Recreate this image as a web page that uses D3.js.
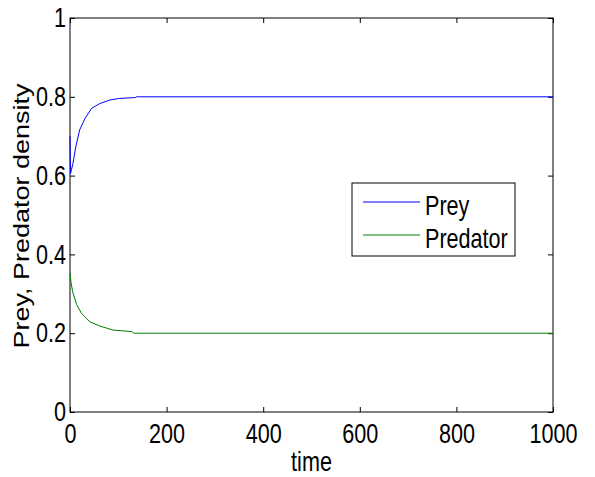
<!DOCTYPE html>
<html>
<head>
<meta charset="utf-8">
<script src="https://cdn.jsdelivr.net/npm/d3@7"></script>
<style>
  body { margin: 0; background: #fff; }
  svg { display: block; font-family: "Liberation Sans", Arial, sans-serif; }
</style>
</head>
<body>
<div id="chart"></div>
<script>
// time points and densities
const preyTime = [0, 1, 3, 6, 12, 20, 31, 45, 62, 83, 103, 135, 138, 1000];
const preyValues = [0.70, 0.605, 0.615, 0.63, 0.673, 0.716, 0.745, 0.771, 0.783, 0.792, 0.796, 0.798, 0.80, 0.80];
const predatorTime = [0, 2, 5.5, 14, 24, 41, 62, 89, 128, 132, 1000];
const predatorValues = [0.352, 0.33, 0.305, 0.272, 0.25, 0.229, 0.218, 0.208, 0.204, 0.20, 0.20];

const seriesNames = ['Prey', 'Predator'];
const seriesColors = ['#0000ff', '#008000'];

const xTicks = [0, 200, 400, 600, 800, 1000];
const xTickLabels = ['0', '200', '400', '600', '800', '1000'];
const yTicks = [0, 0.2, 0.4, 0.6, 0.8, 1];
const yTickLabels = ['0', '0.2', '0.4', '0.6', '0.8', '1'];

const W = 595, H = 477;
const margin = { top: 18, left: 70, right: 42, bottom: 65 };
const width = W - margin.left - margin.right;
const height = H - margin.top - margin.bottom;
const fontSize = 27;
const squash = 0.8; // the picture is squeezed horizontally

const svg = d3.select('#chart').append('svg')
    .attr('width', W)
    .attr('height', H);

const ctx = svg.append('g')
    .attr('transform', `translate(${margin.left},${margin.top})`);

const xScale = d3.scaleLinear().domain([0, 1000]).range([0, width]);
const yScale = d3.scaleLinear().domain([0, 1]).range([height, 0]);

// axes, ticks pointing inward like MATLAB
const xAxis = d3.axisBottom(xScale)
    .tickValues(xTicks)
    .tickFormat((d, i) => xTickLabels[i])
    .tickSizeInner(-5).tickSizeOuter(0).tickPadding(12);
const yAxis = d3.axisLeft(yScale)
    .tickValues(yTicks)
    .tickFormat((d, i) => yTickLabels[i])
    .tickSizeInner(-5).tickSizeOuter(0).tickPadding(5);

ctx.append('g')
    .attr('transform', `translate(0,${height})`)
    .call(xAxis);
ctx.append('g').call(yAxis);

ctx.append('g')
    .call(d3.axisTop(xScale).tickValues(xTicks).tickFormat('').tickSizeInner(-5).tickSizeOuter(0));
ctx.append('g')
    .attr('transform', `translate(${width},0)`)
    .call(d3.axisRight(yScale).tickValues(yTicks).tickFormat('').tickSizeInner(-5).tickSizeOuter(0));

ctx.selectAll('.domain').remove();
ctx.selectAll('.tick line').attr('stroke', '#000');
ctx.selectAll('.tick text')
    .attr('fill', '#000')
    .attr('font-size', fontSize)
    .attr('font-family', '"Liberation Sans", Arial, sans-serif')
    .attr('transform', `scale(${squash},1)`);

// box
ctx.append('rect')
    .attr('x', xScale(0))
    .attr('y', yScale(1))
    .attr('width', xScale(1000) - xScale(0))
    .attr('height', yScale(0) - yScale(1))
    .attr('fill', 'none')
    .attr('stroke', '#000')
    .attr('stroke-width', 1);

// curves
const line = d3.line()
    .x(d => xScale(d[0]))
    .y(d => yScale(d[1]));

const series = [
    d3.zip(preyTime, preyValues),
    d3.zip(predatorTime, predatorValues)
];

ctx.selectAll('.curve')
    .data(series)
    .join('path')
    .attr('class', 'curve')
    .attr('d', line)
    .attr('fill', 'none')
    .attr('stroke', (d, i) => seriesColors[i])
    .attr('stroke-width', 1);

// axis labels
ctx.append('g')
    .attr('transform', `translate(${xScale(500)},${height + 59})`)
    .append('text')
    .attr('transform', `scale(${squash},1)`)
    .attr('text-anchor', 'middle')
    .attr('font-size', fontSize)
    .text('time');

svg.append('g')
    .attr('transform', `translate(29,216) rotate(-90)`)
    .append('text')
    .attr('transform', `scale(1,${squash})`)
    .attr('text-anchor', 'middle')
    .attr('font-size', fontSize)
    .text('Prey, Predator density');

// legend
const leg = svg.append('g').attr('transform', 'translate(352,183)');
leg.append('rect')
    .attr('width', 163)
    .attr('height', 73)
    .attr('fill', '#fff')
    .attr('stroke', '#000');

const items = leg.selectAll('.item')
    .data(seriesNames)
    .join('g')
    .attr('class', 'item')
    .attr('transform', (d, i) => `translate(11,${19 + i * 33})`);

items.append('line')
    .attr('x1', 0).attr('x2', 57)
    .attr('stroke', (d, i) => seriesColors[i]);

items.append('g')
    .attr('transform', 'translate(62,12.5)')
    .append('text')
    .attr('transform', `scale(${squash},1)`)
    .attr('font-size', fontSize)
    .text(d => d);
</script>
</body>
</html>
